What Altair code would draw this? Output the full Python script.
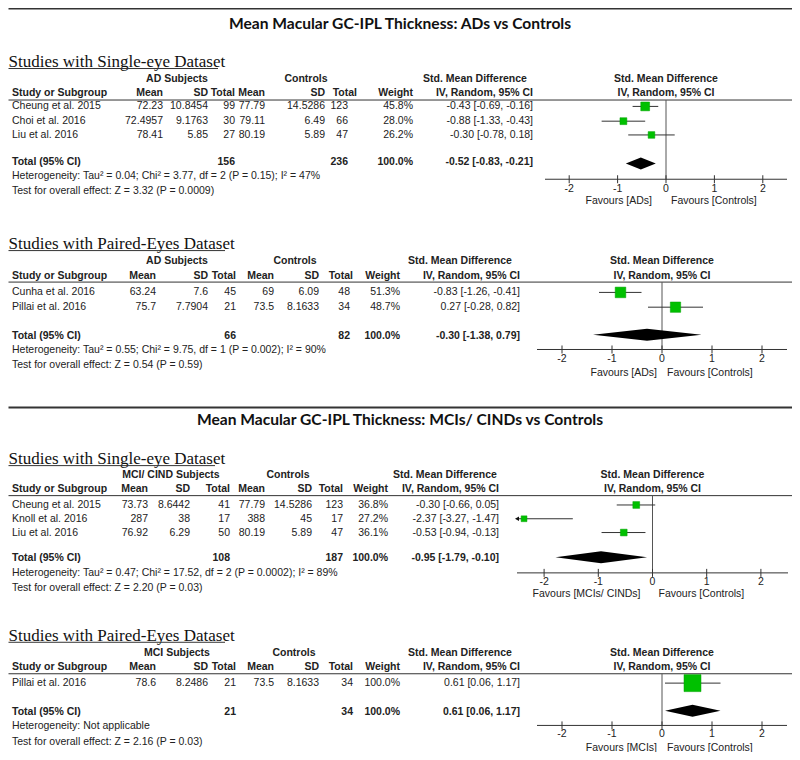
import altair as alt
import pandas as pd

W, H = 784, 744


def tx(p):
    return max(p - 8.0, 0.5)


def ty(p):
    return (p - 2.0) * H / 756.0


FONT = "Liberation Sans"
FS = 10.5
INK = "#222222"
LINE = "#333333"
GREEN = "#00c000"

# ---------------- data ----------------
ticks = [-2, -1, 0, 1, 2]
tick_labels = ["-2", "-1", "0", "1", "2"]
axis_domain = [-2.5, 2.5]
col_headers = ["Mean", "SD", "Total", "Mean", "SD", "Total", "Weight", "IV, Random, 95% CI"]
smd_header = ["Std. Mean Difference", "IV, Random, 95% CI"]

title_ad = "Mean Macular GC-IPL Thickness: ADs vs Controls"
title_mci = "Mean Macular GC-IPL Thickness: MCIs/ CINDs vs Controls"
sub_single = "Studies with Single-eye Dataset"
sub_paired = "Studies with Paired-Eyes Dataset"

# AD, single-eye
a1_group = "AD Subjects"
a1_studies = ["Cheung et al. 2015", "Choi et al. 2016", "Liu et al. 2016"]
a1_mean_e = ["72.23", "72.4957", "78.41"]
a1_sd_e = ["10.8454", "9.1763", "5.85"]
a1_n_e = ["99", "30", "27"]
a1_mean_c = ["77.79", "79.11", "80.19"]
a1_sd_c = ["14.5286", "6.49", "5.89"]
a1_n_c = ["123", "66", "47"]
a1_weight = [45.8, 28.0, 26.2]
a1_smd = [-0.43, -0.88, -0.30]
a1_lo = [-0.69, -1.33, -0.78]
a1_hi = [-0.16, -0.43, 0.18]
a1_total_n = ["156", "236"]
a1_total_weight = 100.0
a1_total = [-0.52, -0.83, -0.21]
a1_het = "Heterogeneity: Tau\u00b2 = 0.04; Chi\u00b2 = 3.77, df = 2 (P = 0.15); I\u00b2 = 47%"
a1_test = "Test for overall effect: Z = 3.32 (P = 0.0009)"
a1_fav = ["Favours [ADs]", "Favours [Controls]"]

# AD, paired-eyes
a2_group = "AD Subjects"
a2_studies = ["Cunha et al. 2016", "Pillai et al. 2016"]
a2_mean_e = ["63.24", "75.7"]
a2_sd_e = ["7.6", "7.7904"]
a2_n_e = ["45", "21"]
a2_mean_c = ["69", "73.5"]
a2_sd_c = ["6.09", "8.1633"]
a2_n_c = ["48", "34"]
a2_weight = [51.3, 48.7]
a2_smd = [-0.83, 0.27]
a2_lo = [-1.26, -0.28]
a2_hi = [-0.41, 0.82]
a2_total_n = ["66", "82"]
a2_total_weight = 100.0
a2_total = [-0.30, -1.38, 0.79]
a2_het = "Heterogeneity: Tau\u00b2 = 0.55; Chi\u00b2 = 9.75, df = 1 (P = 0.002); I\u00b2 = 90%"
a2_test = "Test for overall effect: Z = 0.54 (P = 0.59)"
a2_fav = ["Favours [ADs]", "Favours [Controls]"]

# MCI/CIND, single-eye
m1_group = "MCI/ CIND Subjects"
m1_studies = ["Cheung et al. 2015", "Knoll et al. 2016", "Liu et al. 2016"]
m1_mean_e = ["73.73", "287", "76.92"]
m1_sd_e = ["8.6442", "38", "6.29"]
m1_n_e = ["41", "17", "50"]
m1_mean_c = ["77.79", "388", "80.19"]
m1_sd_c = ["14.5286", "45", "5.89"]
m1_n_c = ["123", "17", "47"]
m1_weight = [36.8, 27.2, 36.1]
m1_smd = [-0.30, -2.37, -0.53]
m1_lo = [-0.66, -3.27, -0.94]
m1_hi = [0.05, -1.47, -0.13]
m1_total_n = ["108", "187"]
m1_total_weight = 100.0
m1_total = [-0.95, -1.79, -0.10]
m1_het = "Heterogeneity: Tau\u00b2 = 0.47; Chi\u00b2 = 17.52, df = 2 (P = 0.0002); I\u00b2 = 89%"
m1_test = "Test for overall effect: Z = 2.20 (P = 0.03)"
m1_fav = ["Favours [MCIs/ CINDs]", "Favours [Controls]"]

# MCI, paired-eyes
m2_group = "MCI Subjects"
m2_studies = ["Pillai et al. 2016"]
m2_mean_e = ["78.6"]
m2_sd_e = ["8.2486"]
m2_n_e = ["21"]
m2_mean_c = ["73.5"]
m2_sd_c = ["8.1633"]
m2_n_c = ["34"]
m2_weight = [100.0]
m2_smd = [0.61]
m2_lo = [0.06]
m2_hi = [1.17]
m2_total_n = ["21", "34"]
m2_total_weight = 100.0
m2_total = [0.61, 0.06, 1.17]
m2_het = "Heterogeneity: Not applicable"
m2_test = "Test for overall effect: Z = 2.16 (P = 0.03)"
m2_fav = ["Favours [MCIs]", "Favours [Controls]"]

# ---------------- layout (page pixel positions) ----------------
sections = [
    dict(sub=sub_single, group=a1_group, studies=a1_studies,
         cols_vals=[a1_mean_e, a1_sd_e, a1_n_e, a1_mean_c, a1_sd_c, a1_n_c],
         weight=a1_weight, smd=a1_smd, lo=a1_lo, hi=a1_hi, total_n=a1_total_n,
         total_w=a1_total_weight, total=a1_total, het=a1_het, test=a1_test, fav=a1_fav,
         sub_base=61.5, ul=(4, 218, 63.5), grp_y=74, hdr_y=88, line_y=95.5,
         rows=[102, 117, 131], total_y=158, het_y=173, test_y=188,
         cols=[163, 208, 235, 265, 325, 348, 413, 533],
         hcols=[163, 208, 235, 265, 325, 357, 413, 533], grp_x=[177, 306, 475],
         fx=[545, 787], axis_y=176, lab_y=186, fav_y=198, dia_y=160, fav_dx=(-14, 5), k=1.7),
    dict(sub=sub_paired, group=a2_group, studies=a2_studies,
         cols_vals=[a2_mean_e, a2_sd_e, a2_n_e, a2_mean_c, a2_sd_c, a2_n_c],
         weight=a2_weight, smd=a2_smd, lo=a2_lo, hi=a2_hi, total_n=a2_total_n,
         total_w=a2_total_weight, total=a2_total, het=a2_het, test=a2_test, fav=a2_fav,
         sub_base=247, ul=(3, 225, 248.5), grp_y=259, hdr_y=274, line_y=280.5,
         rows=[291, 306], total_y=335, het_y=350, test_y=365,
         cols=[156, 208, 236, 274, 319, 350, 400, 520],
         hcols=[156, 208, 236, 274, 319, 353, 400, 520], grp_x=[177, 295, 460],
         fx=[537, 787], axis_y=349, lab_y=359, fav_y=373, dia_y=334, fav_dx=(-5, 5), k=2.2),
    dict(sub=sub_single, group=m1_group, studies=m1_studies,
         cols_vals=[m1_mean_e, m1_sd_e, m1_n_e, m1_mean_c, m1_sd_c, m1_n_c],
         weight=m1_weight, smd=m1_smd, lo=m1_lo, hi=m1_hi, total_n=m1_total_n,
         total_w=m1_total_weight, total=m1_total, het=m1_het, test=m1_test, fav=m1_fav,
         sub_base=465, ul=(3, 215, 467), grp_y=477, hdr_y=491, line_y=497.5,
         rows=[507, 521, 535], total_y=561, het_y=576, test_y=591,
         cols=[148, 190, 230, 265, 312, 343, 388, 499],
         hcols=[148, 190, 230, 265, 312, 343, 388, 499], grp_x=[171, 288, 445],
         fx=[517, 788], axis_y=576, lab_y=585, fav_y=597, dia_y=560, fav_dx=(-12, 6), k=1.25),
    dict(sub=sub_paired, group=m2_group, studies=m2_studies,
         cols_vals=[m2_mean_e, m2_sd_e, m2_n_e, m2_mean_c, m2_sd_c, m2_n_c],
         weight=m2_weight, smd=m2_smd, lo=m2_lo, hi=m2_hi, total_n=m2_total_n,
         total_w=m2_total_weight, total=m2_total, het=m2_het, test=m2_test, fav=m2_fav,
         sub_base=645, ul=(3, 225, 646.5), grp_y=657, hdr_y=672, line_y=678.5,
         rows=[688], total_y=717, het_y=732, test_y=748,
         cols=[156, 208, 236, 274, 319, 353, 400, 520],
         hcols=[156, 208, 236, 274, 319, 353, 400, 520], grp_x=[177, 294, 460],
         fx=[537, 787], axis_y=731, lab_y=740, fav_y=754, dia_y=716, fav_dx=(-5, 5), k=2.9),
]
titles = [(title_ad, 400, 18), (title_mci, 400, 421)]
thick_lines = [(0, 800, 2.5), (0, 800, 408)]


def fmt_ci(e, lo, hi):
    return f"{e:.2f} [{lo:.2f}, {hi:.2f}]"


# ---------------- build text tables ----------------
buckets = {k: [] for k in ["nl", "nr", "bl", "br", "bc", "serif"]}
thin_lines = []
for s in sections:
    buckets["serif"].append((tx(s["ul"][0]), ty(s["sub_base"]), s["sub"]))
    thin_lines.append((tx(s["ul"][0]), tx(s["ul"][1]), ty(s["ul"][2])))
    thin_lines.append((tx(3), tx(800), ty(s["line_y"])))
    for gx, gt in zip(s["grp_x"], [s["group"], "Controls", smd_header[0]]):
        buckets["bc"].append((tx(gx), ty(s["grp_y"]), gt))
    buckets["bl"].append((tx(12), ty(s["hdr_y"]), "Study or Subgroup"))
    for cx, ch in zip(s["hcols"], col_headers):
        buckets["br"].append((tx(cx), ty(s["hdr_y"]), ch))
    for i, name in enumerate(s["studies"]):
        y = ty(s["rows"][i])
        buckets["nl"].append((tx(12), y, name))
        vals = [cv[i] for cv in s["cols_vals"]] + [f"{s['weight'][i]:.1f}%",
                                                   fmt_ci(s["smd"][i], s["lo"][i], s["hi"][i])]
        for cx, v in zip(s["cols"], vals):
            buckets["nr"].append((tx(cx), y, v))
    yt = ty(s["total_y"])
    buckets["bl"].append((tx(12), yt, "Total (95% CI)"))
    buckets["br"].append((tx(s["cols"][2]), yt, s["total_n"][0]))
    buckets["br"].append((tx(s["cols"][5]), yt, s["total_n"][1]))
    buckets["br"].append((tx(s["cols"][6]), yt, f"{s['total_w']:.1f}%"))
    buckets["br"].append((tx(s["cols"][7]), yt, fmt_ci(*s["total"])))
    buckets["nl"].append((tx(12), ty(s["het_y"]), s["het"]))
    buckets["nl"].append((tx(12), ty(s["test_y"]), s["test"]))


def df_of(rows):
    return pd.DataFrame(rows, columns=["x", "y", "t"])


PX = alt.X("x:Q", scale=None, axis=None)
PY = alt.Y("y:Q", scale=None, axis=None)


def text_layer(rows, **kw):
    base = dict(font=FONT, fontSize=FS, color=INK, baseline="middle")
    base.update(kw)
    return alt.Chart(df_of(rows)).mark_text(**base).encode(x=PX, y=PY, text="t:N")


layers = [
    text_layer(buckets["nl"], align="left"),
    text_layer(buckets["nr"], align="right"),
    text_layer(buckets["bl"], align="left", fontWeight="bold"),
    text_layer(buckets["br"], align="right", fontWeight="bold"),
    text_layer(buckets["bc"], align="center", fontWeight="bold"),
    text_layer(buckets["serif"], align="left", baseline="alphabetic",
               font="Liberation Serif", fontSize=17, color="#111111"),
    text_layer([(tx(x), ty(y), t) for t, x, y in titles], align="center",
               font="Lato", fontWeight="bold", fontSize=15.6, color="#111111"),
]

thin_df = pd.DataFrame(thin_lines, columns=["x", "x2", "y"])
layers.append(alt.Chart(thin_df).mark_rule(color=LINE, strokeWidth=1).encode(
    x=PX, x2="x2:Q", y=PY))
thick_df = pd.DataFrame([(tx(a), tx(b), ty(c)) for a, b, c in thick_lines], columns=["x", "x2", "y"])
layers.append(alt.Chart(thick_df).mark_rule(color=LINE, strokeWidth=2).encode(
    x=PX, x2="x2:Q", y=PY))


# ---------------- forest plots ----------------
def forest(s):
    xs = alt.Scale(domain=axis_domain, range=[tx(s["fx"][0]), tx(s["fx"][1])], nice=False, zero=False)

    def X(f):
        return alt.X(f, type="quantitative", scale=xs, axis=None)

    lo_lim, hi_lim = axis_domain
    ay = ty(s["axis_y"])
    axis_df = pd.DataFrame({"a": [axis_domain[0]], "b": [axis_domain[1]]})
    axis_line = alt.Chart(axis_df).mark_rule(color=LINE, strokeWidth=1).encode(
        x=X("a"), x2="b:Q", y=alt.value(ay))
    zero_df = pd.DataFrame({"z": [0]})
    zero_line = alt.Chart(zero_df).mark_rule(color="#555555", strokeWidth=1).encode(
        x=X("z"), y=alt.value(ty(s["line_y"])), y2=alt.value(ay))
    tick_df = pd.DataFrame({"t": ticks, "lab": tick_labels})
    tick_marks = alt.Chart(tick_df).mark_rule(color=LINE, strokeWidth=1).encode(
        x=X("t"), y=alt.value(ay - 4), y2=alt.value(ay + 4))
    tick_text = alt.Chart(tick_df).mark_text(font=FONT, fontSize=FS, color=INK, baseline="middle").encode(
        x=X("t"), y=alt.value(ty(s["lab_y"])), text="lab:N")
    hdr_df = pd.DataFrame({"z": [0, 0], "y": [ty(s["grp_y"]), ty(s["hdr_y"])], "t": smd_header})
    hdr_text = alt.Chart(hdr_df).mark_text(font=FONT, fontSize=FS, color=INK, fontWeight="bold",
                                           baseline="middle").encode(x=X("z"), y=PY, text="t:N")
    fav_df = pd.DataFrame({"z": [0], "l": [s["fav"][0]], "r": [s["fav"][1]]})
    fav_l = alt.Chart(fav_df).mark_text(font=FONT, fontSize=FS, color=INK, align="right",
                                        baseline="middle", dx=s["fav_dx"][0]).encode(
        x=X("z"), y=alt.value(ty(s["fav_y"])), text="l:N")
    fav_r = alt.Chart(fav_df).mark_text(font=FONT, fontSize=FS, color=INK, align="left",
                                        baseline="middle", dx=s["fav_dx"][1]).encode(
        x=X("z"), y=alt.value(ty(s["fav_y"])), text="r:N")

    st = pd.DataFrame({"est": s["smd"], "lo": s["lo"], "hi": s["hi"], "w": s["weight"],
                       "y": [ty(r) for r in s["rows"]]})
    stc = alt.Chart(st).transform_calculate(
        lo_c=f"max(datum.lo, {lo_lim})", hi_c=f"min(datum.hi, {hi_lim})")
    ci = stc.mark_rule(color=LINE, strokeWidth=1).encode(x=X("lo_c"), x2="hi_c:Q", y=PY)
    arrow = stc.transform_filter(f"datum.lo < {lo_lim}").mark_point(
        shape="triangle-left", filled=True, color="#111111", size=22, opacity=1).encode(
        x=X("lo_c"), y=PY)
    squares = alt.Chart(st).mark_square(color=GREEN, opacity=1, stroke="#00a000", strokeWidth=0.5).encode(
        x=X("est"), y=PY,
        size=alt.Size("w:Q", scale=alt.Scale(domain=[0, 100], range=[0, s["k"] * 100]), legend=None))

    e, lo, hi = s["total"]
    cy = ty(s["dia_y"])
    h = 6
    dia_df = pd.DataFrame({"x": [lo, e, hi], "y": [cy, cy - h, cy], "y2": [cy, cy + h, cy]})
    diamond = alt.Chart(dia_df).mark_area(color="#000000", orient="vertical", opacity=1).encode(
        x=X("x"), y=PY, y2="y2:Q")

    return alt.layer(axis_line, zero_line, tick_marks, tick_text, hdr_text, fav_l, fav_r,
                     ci, arrow, squares, diamond)


for s in sections:
    layers.append(forest(s))

chart = alt.layer(*layers).resolve_scale(x="independent", size="independent").properties(
    width=W, height=H, padding=0, autosize="none"
).configure_view(stroke=None)

chart.save("out.html", embed_options={"renderer": "svg", "actions": False})
